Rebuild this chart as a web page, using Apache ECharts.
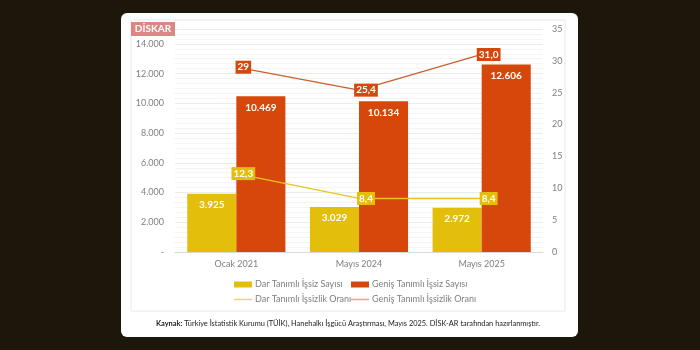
<!DOCTYPE html>
<html>
<head>
<meta charset="utf-8">
<script src="https://cdn.jsdelivr.net/npm/echarts@6/dist/echarts.min.js"></script>
<style>
  html, body { margin: 0; padding: 0; background: #1d160a; }
  #chart { width: 700px; height: 350px; }
</style>
</head>
<body>
<div id="chart"></div>
<script>
const categories = ['Ocak 2021', 'Mayıs 2024', 'Mayıs 2025'];
const narrowCount = [3925, 3029, 2972];
const broadCount = [10469, 10134, 12606];
const narrowRate = [12.3, 8.4, 8.4];
const broadRate = [29, 25.4, 31.0];
const broadRateLabels = ['29', '25,4', '31,0'];
const leftTicks = { min: 0, max: 15000, step: 2000 };
const rightTicks = { min: 0, max: 35, step: 5 };

const names = ['Dar Tanımlı İşsiz Sayısı', 'Geniş Tanımlı İşsiz Sayısı',
               'Dar Tanımlı İşsizlik Oranı', 'Geniş Tanımlı İşsizlik Oranı'];
const yellow = '#E3BE0B';
const orange = '#D6470B';
const font = 'Lato';

function dots(v) {
    return String(v).replace(/\B(?=(\d{3})+(?!\d))/g, '.');
}

const chart = echarts.init(document.getElementById('chart'));

const lineLabel = (bg, fmt) => ({
    show: true,
    position: 'inside',
    offset: [7, 0],
    backgroundColor: bg,
    color: '#fff',
    fontWeight: 'bold',
    fontFamily: font,
    fontSize: 10,
    padding: [2, 2, 1, 2],
    formatter: fmt
});

const barLabel = {
    show: true,
    position: 'insideTop',
    distance: 6,
    color: '#fff',
    fontWeight: 'bold',
    fontFamily: font,
    fontSize: 10,
    formatter: p => dots(p.value)
};

function legendAt(left, top, name, lineIcon) {
    return {
        left: left, top: top, padding: 0,
        data: [{ name: name, icon: 'rect' }],
        itemWidth: 18,
        itemHeight: lineIcon ? 1.5 : 6,
        itemGap: 3,
        textStyle: { color: '#7f7f7f', fontFamily: font, fontSize: 9, padding: [0, 0, 0, -2] }
    };
}

chart.setOption({
    backgroundColor: '#1d160a',
    textStyle: { fontFamily: font },
    graphic: [
        { type: 'rect', shape: { x: 121, y: 13, width: 457, height: 324, r: 6 },
          style: { fill: '#ffffff' }, z: -10 },
        { type: 'rect', shape: { x: 131, y: 20, width: 434, height: 291 },
          style: { fill: 'none', stroke: '#e8e8e8', lineWidth: 1 }, z: -9 },
        { type: 'rect', shape: { x: 131, y: 22, width: 44, height: 14 },
          style: { fill: '#db8783' }, z: -8 },
        { type: 'text', x: 153, y: 29,
          style: { text: 'DİSKAR', fill: '#fff', font: 'bold 10px ' + font,
                   align: 'center', verticalAlign: 'middle' }, z: -7 },
        { type: 'text', x: 348, y: 324,
          style: {
              text: '{b|Kaynak:} Türkiye İstatistik Kurumu (TÜİK), Hanehalkı İşgücü Araştırması, Mayıs 2025. DİSK-AR tarafından hazırlanmıştır.',
              align: 'center', verticalAlign: 'middle',
              fill: '#222', font: '7.4px ' + font,
              rich: { b: { fontWeight: 'bold', fontSize: 7.4, fontFamily: font, fill: '#222' } }
          } }
    ],
    legend: [
        legendAt(234, 280, names[0], false),
        legendAt(351, 280, names[1], false),
        legendAt(234, 295, names[2], true),
        legendAt(351, 295, names[3], true)
    ],
    grid: { left: 175, right: 157, top: 29, bottom: 98 },
    xAxis: {
        type: 'category',
        data: categories,
        axisTick: { show: false },
        axisLine: { lineStyle: { color: '#d9d9d9' } },
        axisLabel: { color: '#7f7f7f', fontSize: 9, margin: 8 }
    },
    yAxis: [
        {
            type: 'value',
            min: leftTicks.min, max: leftTicks.max, interval: leftTicks.step,
            axisLine: { show: false },
            axisTick: { show: false },
            axisLabel: {
                color: '#7f7f7f', fontSize: 9, margin: 11,
                formatter: v => v === 0 ? '-' : (v > 14000 ? '' : dots(v))
            },
            splitLine: { lineStyle: { color: '#ececec' } },
            minorTick: { show: false, splitNumber: 6 },
            minorSplitLine: { show: true, lineStyle: { color: '#f4f4f4' } }
        },
        {
            type: 'value',
            min: rightTicks.min, max: rightTicks.max, interval: rightTicks.step,
            axisLine: { show: false },
            axisTick: { show: false },
            splitLine: { show: false },
            axisLabel: { color: '#7f7f7f', fontSize: 9, margin: 9 }
        }
    ],
    series: [
        {
            name: names[0], type: 'bar', data: narrowCount,
            itemStyle: { color: yellow },
            barGap: '0%', barCategoryGap: '20%',
            label: barLabel
        },
        {
            name: names[1], type: 'bar', data: broadCount,
            itemStyle: { color: orange },
            barGap: '0%', barCategoryGap: '20%',
            label: barLabel
        },
        {
            name: names[2], type: 'line', yAxisIndex: 1, data: narrowRate,
            symbol: 'circle', symbolSize: 0.1, showSymbol: true,
            lineStyle: { color: '#E6C520', width: 1.3 },
            itemStyle: { color: '#EBD57A' },
            label: lineLabel(yellow, p => String(p.value).replace('.', ',')),
            z: 5
        },
        {
            name: names[3], type: 'line', yAxisIndex: 1, data: broadRate,
            symbol: 'circle', symbolSize: 0.1, showSymbol: true,
            lineStyle: { color: '#C9602F', width: 1.3 },
            itemStyle: { color: '#E2A78C' },
            label: lineLabel(orange, p => broadRateLabels[p.dataIndex]),
            z: 5
        }
    ]
});
</script>
</body>
</html>
